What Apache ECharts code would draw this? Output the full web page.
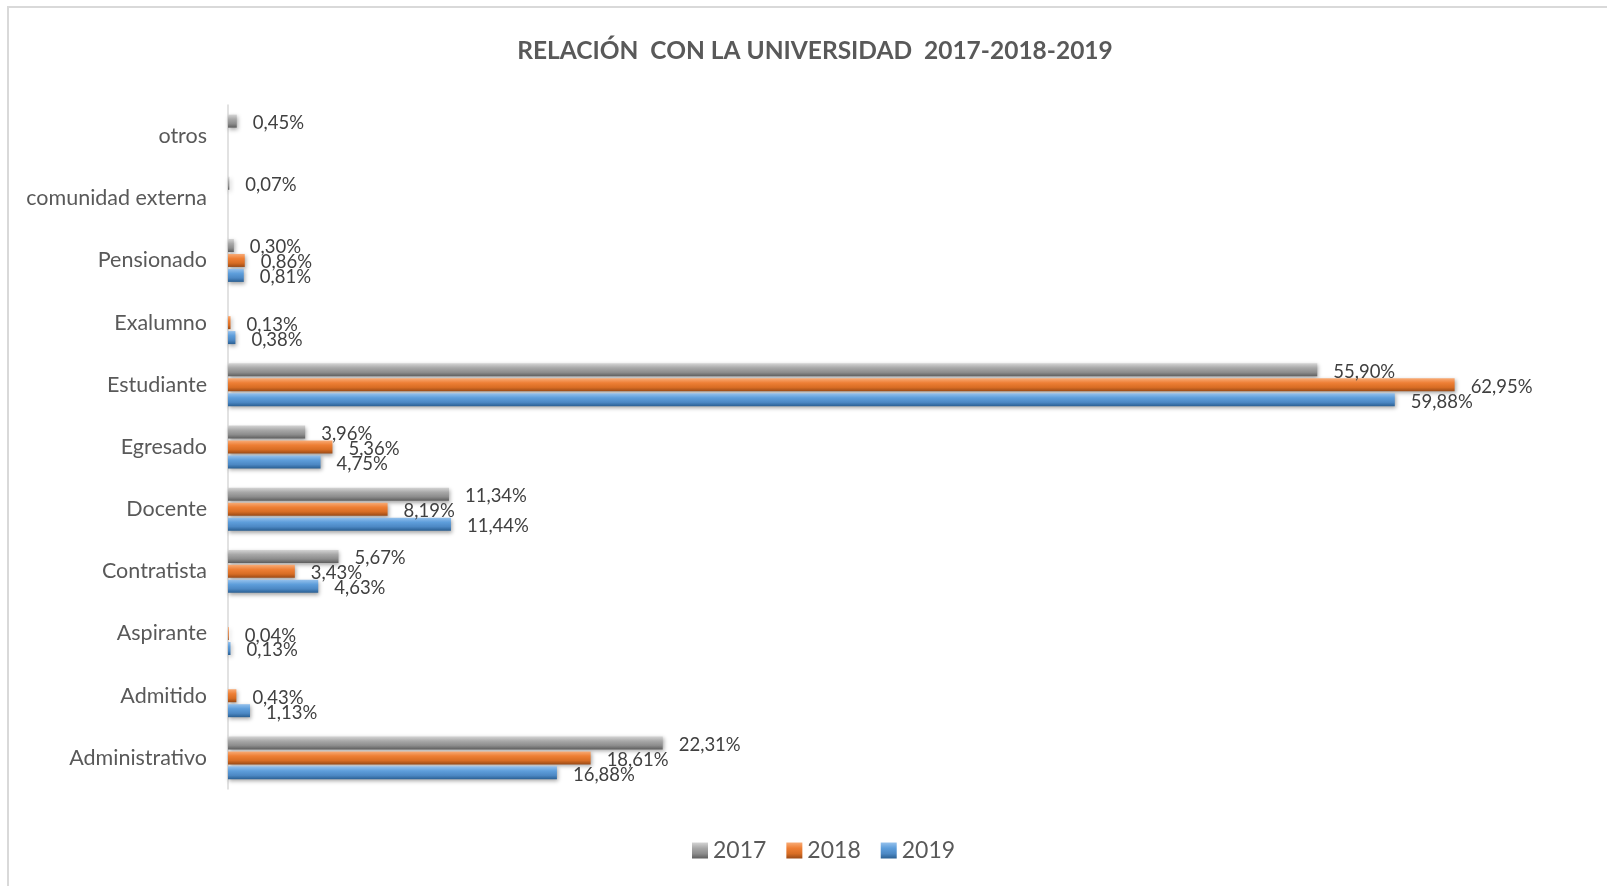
<!DOCTYPE html>
<html>
<head>
<meta charset="utf-8">
<script src="https://cdn.jsdelivr.net/npm/echarts@6/dist/echarts.min.js"></script>
<style>
html,body{margin:0;padding:0;background:#fff;}
#c{width:1607px;height:886px;}
</style>
</head>
<body>
<div id="c"></div>
<script>
var categories = ['Administrativo','Admitido','Aspirante','Contratista','Docente','Egresado','Estudiante','Exalumno','Pensionado','comunidad externa','otros'];
var years = ['2017','2018','2019'];
var values2017 = [22.31, null, null, 5.67, 11.34, 3.96, 55.90, null, 0.30, 0.07, 0.45];
var values2018 = [18.61, 0.43, 0.04, 3.43, 8.19, 5.36, 62.95, 0.13, 0.86, null, null];
var values2019 = [16.88, 1.13, 0.13, 4.63, 11.44, 4.75, 59.88, 0.38, 0.81, null, null];
var titleText = 'RELACIÓN  CON LA UNIVERSIDAD  2017-2018-2019';

function grad(c1, c2, c3, c4) {
  return new echarts.graphic.LinearGradient(0, 0, 0, 1, [
    {offset: 0, color: c1},
    {offset: 0.35, color: c2},
    {offset: 0.7, color: c3},
    {offset: 1, color: c4}
  ]);
}
var colors = [
  grad('#d4d4d4', '#a8a8a8', '#8c8c8c', '#5e5e5e'),
  grad('#f8ab76', '#ee7f35', '#d86d24', '#9a4a16'),
  grad('#95c1ec', '#5e9edb', '#4c88c4', '#2a5f92')
];

function fmt(p) {
  if (p.value == null) return '';
  return p.value.toFixed(2).replace('.', ',') + '%';
}

var dataSets = [values2017, values2018, values2019];
var series = years.map(function (y, i) {
  return {
    name: y,
    type: 'bar',
    data: dataSets[i],
    barWidth: 13,
    barGap: '15%',
    itemStyle: {
      color: colors[i],
      shadowColor: 'rgba(0,0,0,0.35)',
      shadowBlur: 4,
      shadowOffsetY: 2,
      shadowOffsetX: 1
    },
    label: {
      show: true,
      position: 'right',
      distance: 16,
      offset: [0, 2],
      formatter: fmt,
      fontFamily: 'Lato',
      fontSize: 18.5,
      color: '#404040'
    }
  };
});

var chart = echarts.init(document.getElementById('c'));
chart.setOption({
  animation: false,
  graphic: [{
    type: 'rect',
    shape: {x: 8, y: 7, width: 1640, height: 920},
    style: {fill: 'none', stroke: '#d9d9d9', lineWidth: 2},
    silent: true
  }],
  title: {
    text: titleText,
    left: 810,
    textAlign: 'center',
    top: 34,
    textStyle: {fontFamily: 'Lato', fontWeight: 'bold', fontSize: 24.5, color: '#595959'}
  },
  legend: {
    data: years,
    bottom: 19,
    left: 687,
    icon: 'rect',
    itemWidth: 16,
    itemHeight: 16,
    itemGap: 20,
    textStyle: {fontFamily: 'Lato', fontSize: 23, color: '#595959'}
  },
  grid: {left: 228, right: 15, top: 105, bottom: 97, containLabel: false},
  xAxis: {
    type: 'value',
    min: 0,
    max: 70,
    show: false
  },
  yAxis: {
    type: 'category',
    data: categories,
    axisLine: {show: true, lineStyle: {color: '#d9d9d9', width: 1.5}},
    axisTick: {show: false},
    axisLabel: {fontFamily: 'Lato', fontSize: 21.5, color: '#595959', margin: 21}
  },
  series: series
});
</script>
</body>
</html>
